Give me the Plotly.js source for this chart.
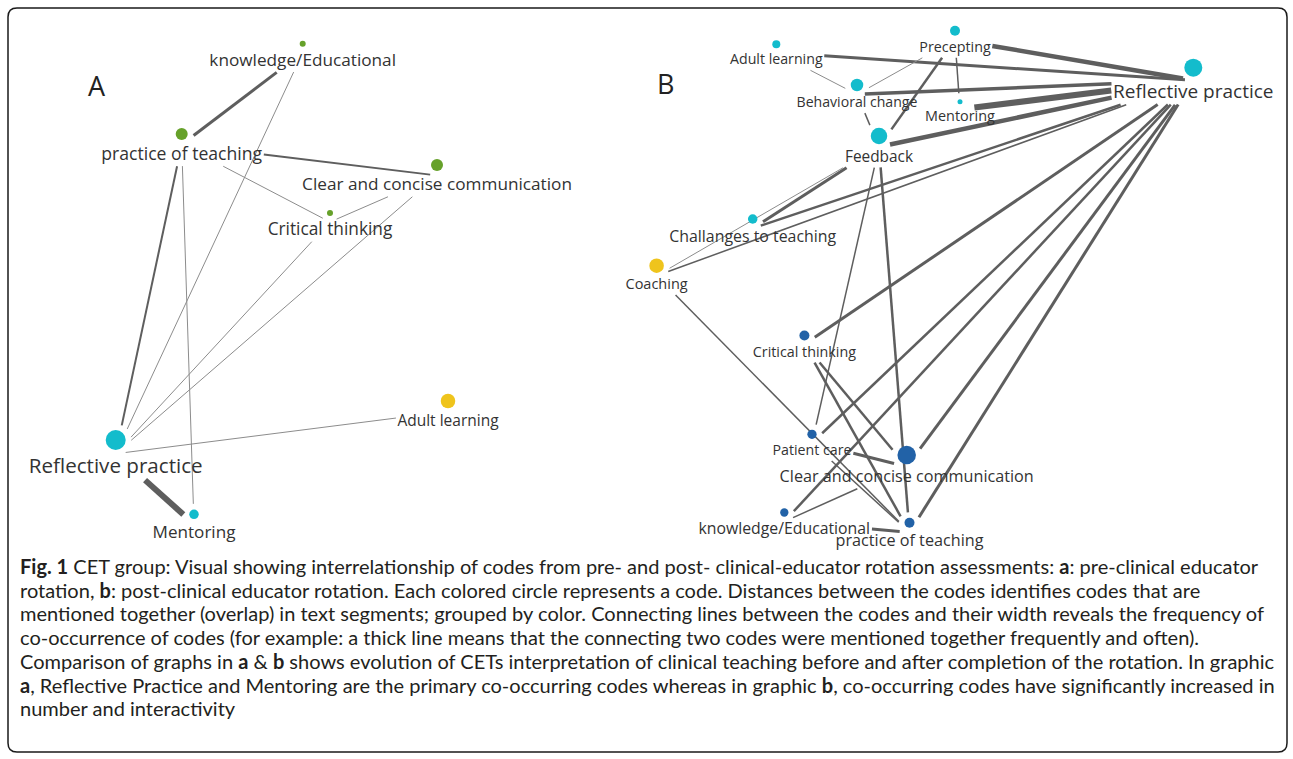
<!DOCTYPE html>
<html>
<head>
<meta charset="utf-8">
<script src="https://cdn.plot.ly/plotly-3.0.1.min.js"></script>
<style>
html,body{margin:0;padding:0;background:#fff;}
#chart{width:1293px;height:759px;}
</style>
</head>
<body>
<div id="chart"></div>
<script>
// ================= DATA =================
// Panel A (pre-clinical educator rotation): codes, map coordinates, groups
const codesA = ["knowledge/Educational","practice of teaching","Clear and concise communication","Critical thinking","Adult learning","Reflective practice","Mentoring"];
const groupA = ["green","green","green","green","yellow","cyan","cyan"];
const mapXA  = [302.7, 181.7, 437, 330, 448, 115.7, 194];
const mapYA  = [43.7, 134, 165, 213, 401, 440, 514.3];
const codeFreqA = [6, 12, 12, 6, 14.5, 20, 9.5];
// co-occurrence links A
const linkFromA = ["knowledge/Educational","knowledge/Educational","practice of teaching","practice of teaching","Critical thinking","practice of teaching","practice of teaching","Critical thinking","Clear and concise communication","Adult learning","Reflective practice"];
const linkToA   = ["practice of teaching","Reflective practice","Clear and concise communication","Critical thinking","Clear and concise communication","Reflective practice","Mentoring","Reflective practice","Reflective practice","Reflective practice","Mentoring"];
const linkFreqA = [3, 1, 2, 1, 1, 2, 1, 1, 1, 1, 6];

// Panel B (post-clinical educator rotation)
const codesB = ["Adult learning","Precepting","Behavioral change","Mentoring","Feedback","Reflective practice","Challanges to teaching","Coaching","Critical thinking","Patient care","Clear and concise communication","knowledge/Educational","practice of teaching"];
const groupB = ["cyan","cyan","cyan","cyan","cyan","cyan","cyan","yellow","blue","blue","blue","blue","blue"];
const mapXB  = [776.3, 955, 857, 960, 879, 1193.3, 752.7, 656.6, 804.4, 812, 906.7, 784.3, 909.5];
const mapYB  = [44.3, 30.7, 85, 101.7, 136, 67.7, 219, 265.7, 335.5, 434.3, 455, 512.5, 522.7];
const codeFreqB = [8, 10, 12.5, 5, 16.5, 18, 9.5, 14.5, 10, 9.3, 18.5, 8.3, 10];
const linkFromB = ["Adult learning","Precepting","Adult learning","Precepting","Precepting","Precepting","Behavioral change","Behavioral change","Mentoring","Feedback","Challanges to teaching","Coaching","Feedback","Feedback","Feedback","Feedback","Critical thinking","Critical thinking","Critical thinking","Coaching","Patient care","Patient care","Patient care","knowledge/Educational","knowledge/Educational","knowledge/Educational","Clear and concise communication","practice of teaching"];
const linkToB   = ["Reflective practice","Reflective practice","Behavioral change","Behavioral change","Mentoring","Feedback","Feedback","Reflective practice","Reflective practice","Reflective practice","Reflective practice","Reflective practice","Challanges to teaching","Coaching","Patient care","practice of teaching","Reflective practice","Clear and concise communication","practice of teaching","practice of teaching","practice of teaching","Clear and concise communication","Reflective practice","Reflective practice","Clear and concise communication","practice of teaching","Reflective practice","Reflective practice"];
const linkFreqB = [3, 4.5, 1, 1, 1.5, 2.5, 1.5, 3.5, 6, 4.5, 2.5, 1.5, 3, 1, 1.5, 2.5, 3, 2.5, 2.5, 1.5, 1.5, 3, 2.5, 2.5, 1.5, 3, 3, 3];

const panelLetters = ["A","B"];
const captionLines = [
  "<b>Fig. 1</b> CET group: Visual showing interrelationship of codes from pre- and post- clinical-educator rotation assessments: <b>a</b>: pre-clinical educator",
  "rotation, <b>b</b>: post-clinical educator rotation. Each colored circle represents a code. Distances between the codes identifies codes that are",
  "mentioned together (overlap) in text segments; grouped by color. Connecting lines between the codes and their width reveals the frequency of",
  "co-occurrence of codes (for example: a thick line means that the connecting two codes were mentioned together frequently and often).",
  "Comparison of graphs in <b>a</b> &amp; <b>b</b> shows evolution of CETs interpretation of clinical teaching before and after completion of the rotation. In graphic",
  "<b>a</b>, Reflective Practice and Mentoring are the primary co-occurring codes whereas in graphic <b>b</b>, co-occurring codes have significantly increased in",
  "number and interactivity"
];

// ================= STYLE =================
const labelFontA = [17.2, 17.6, 17.2, 17.3, 15.5, 20.6, 17.1];
const labelFontB = [14.2, 14.3, 14.1, 14.4, 15.4, 19, 15.9, 14.5, 14.3, 14.2, 16.2, 15.8, 16.2];
const groupColor = {cyan:"#13BCCC", green:"#66A12A", yellow:"#EFC41C", blue:"#2262A7"};
const LABEL_FAMILY = '"Open Sans", "Noto Sans", sans-serif';
const CAPTION_FAMILY = 'Lato, Roboto, sans-serif';
const TEXT_COLOR = "#333333";

const canvas = document.createElement("canvas");
const ctx = canvas.getContext("2d");
function measure(text, size, family){ ctx.font = size + "px " + family; return ctx.measureText(text).width; }

const traces = [];
const annotations = [];

function buildPanel(names, xs, ys, freq, groups, fonts, lFrom, lTo, lW){
  const r = freq.map(d => d / 2);
  const ly = ys.map((y, i) => y + r[i] + 0.75 * fonts[i] + 2);
  const ax = xs.slice();
  const ay = ys.map((y, i) => (y + ly[i]) / 2);
  const lw = names.map((n, i) => measure(n, fonts[i], LABEL_FAMILY));
  function inside(i, px, py){
    const dx = px - xs[i], dy = py - ys[i];
    if (dx*dx + dy*dy <= (r[i] + 6) * (r[i] + 6)) return true;
    if (Math.abs(px - xs[i]) <= lw[i]/2 + 2 && Math.abs(py - ly[i]) <= fonts[i]*0.52 + 2) return true;
    return false;
  }
  lFrom.forEach((a, k) => {
    const i = names.indexOf(a), j = names.indexOf(lTo[k]);
    const x0 = ax[i], y0 = ay[i], x1 = ax[j], y1 = ay[j];
    const N = 600; let t0 = 0, t1 = 1;
    for (let s = 0; s <= N; s++){ const t = s/N; if (inside(i, x0+(x1-x0)*t, y0+(y1-y0)*t)) t0 = t; }
    for (let s = N; s >= 0; s--){ const t = s/N; if (inside(j, x0+(x1-x0)*t, y0+(y1-y0)*t)) t1 = t; }
    if (t1 <= t0) return;
    const w = lW[k];
    traces.push({
      type: "scatter", mode: "lines",
      x: [x0 + (x1-x0)*t0, x0 + (x1-x0)*t1],
      y: [y0 + (y1-y0)*t0, y0 + (y1-y0)*t1],
      line: {color: w <= 1.2 ? "#8c8c8c" : "#5e5e5e", width: w},
      hoverinfo: "skip", showlegend: false
    });
  });
  traces.push({
    type: "scatter", mode: "markers", x: xs, y: ys, text: names, opacity: 1,
    marker: {size: freq, opacity: 1, color: groups.map(g => groupColor[g]), line: {width: 0}},
    hoverinfo: "text", showlegend: false
  });
  traces.push({
    type: "scatter", mode: "text", x: xs, y: ly, text: names,
    textposition: "middle center",
    textfont: {family: LABEL_FAMILY, size: fonts, color: TEXT_COLOR},
    hoverinfo: "skip", showlegend: false
  });
}

buildPanel(codesA, mapXA, mapYA, codeFreqA, groupA, labelFontA, linkFromA, linkToA, linkFreqA);
buildPanel(codesB, mapXB, mapYB, codeFreqB, groupB, labelFontB, linkFromB, linkToB, linkFreqB);

// panel letters
const letterPos = [[96.7, 85], [665, 83]];
panelLetters.forEach((L, i) => annotations.push({
  x: letterPos[i][0], y: letterPos[i][1], xref: "x", yref: "y", text: L, showarrow: false,
  font: {family: LABEL_FAMILY, size: 27, color: "#222222"}, xanchor: "center", yanchor: "middle"
}));

// caption: font size fitted so the widest line spans the same width as in the figure
const plain = s => s.replace(/<[^>]+>/g, "").replace(/&amp;/g, "&");
let capSize = 18 * 1256 / measure(plain(captionLines[4]), 18, CAPTION_FAMILY);
capSize = Math.max(14, Math.min(21, capSize));
captionLines.forEach((line, i) => annotations.push({
  x: 18, y: 566 + i * 23.7, xref: "x", yref: "y", text: line, showarrow: false,
  xanchor: "left", yanchor: "middle", align: "left",
  font: {family: CAPTION_FAMILY, size: capSize, color: "#231F20"}
}));

const layout = {
  width: 1293, height: 759, autosize: false,
  margin: {l: 0, r: 0, t: 0, b: 0, pad: 0},
  paper_bgcolor: "#ffffff", plot_bgcolor: "#ffffff",
  xaxis: {range: [0, 1293], visible: false, fixedrange: true},
  yaxis: {range: [759, 0], visible: false, fixedrange: true},
  showlegend: false,
  annotations: annotations,
  shapes: [{
    type: "path", xref: "x", yref: "y",
    path: "M 17,8 L 1278,8 Q 1287,8 1287,17 L 1287,743 Q 1287,752 1278,752 L 17,752 Q 8,752 8,743 L 8,17 Q 8,8 17,8 Z",
    line: {color: "#1a1a1a", width: 1.5}, fillcolor: "rgba(0,0,0,0)", layer: "below"
  }]
};

Plotly.newPlot("chart", traces, layout, {displayModeBar: false, staticPlot: true});
</script>
</body>
</html>
